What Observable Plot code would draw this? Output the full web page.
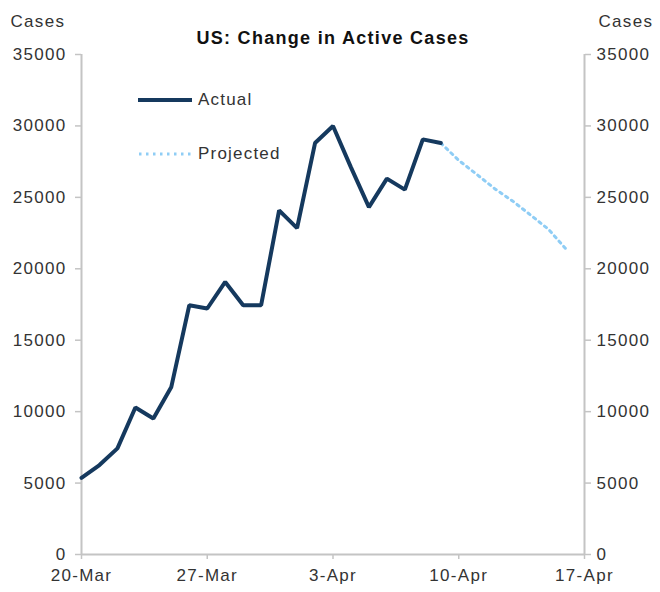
<!DOCTYPE html>
<html>
<head>
<meta charset="utf-8">
<script src="https://cdn.jsdelivr.net/npm/d3@7"></script>
<script src="https://cdn.jsdelivr.net/npm/@observablehq/plot@0.6"></script>
<style>
  html, body { margin: 0; padding: 0; background: #fff; }
  #wrap { position: relative; width: 660px; height: 592px; font-family: "Liberation Sans", Arial, sans-serif; letter-spacing: 1.2px; }
  #legend { position: absolute; left: 138px; top: 86px; font-size: 17px; color: #333; }
  #legend .row { display: flex; align-items: center; height: 27px; margin-bottom: 27px; }
  #legend svg { margin-right: 6px; }
  svg text { letter-spacing: 1.3px; }
</style>
</head>
<body>
<div id="wrap">
  <div id="legend">
    <div class="row"><svg width="54" height="10"><line x1="0" y1="5" x2="54" y2="5" stroke="#15395e" stroke-width="4"/></svg>Actual</div>
    <div class="row"><svg width="54" height="10"><line x1="1" y1="5" x2="54" y2="5" stroke="#8fcdf5" stroke-width="3" stroke-dasharray="2.5,4.5"/></svg>Projected</div>
  </div>
</div>
<script>
const actualDates = ["2020-03-20","2020-03-21","2020-03-22","2020-03-23","2020-03-24","2020-03-25","2020-03-26","2020-03-27","2020-03-28","2020-03-29","2020-03-30","2020-03-31","2020-04-01","2020-04-02","2020-04-03","2020-04-04","2020-04-05","2020-04-06","2020-04-07","2020-04-08","2020-04-09"];
const actualValues = [5370, 6260, 7430, 10290, 9520, 11730, 17450, 17220, 19080, 17450, 17450, 24090, 22850, 28800, 29990, 27100, 24320, 26310, 25540, 29060, 28800];
const projectedDates = ["2020-04-09","2020-04-10","2020-04-11","2020-04-12","2020-04-13","2020-04-14","2020-04-15","2020-04-16"];
const projectedValues = [28800, 27590, 26610, 25610, 24740, 23760, 22760, 21340];
const xTicks = ["2020-03-20","2020-03-27","2020-04-03","2020-04-10","2020-04-17"];
const yTicks = [0, 5000, 10000, 15000, 20000, 25000, 30000, 35000];
const title = "US: Change in Active Cases";
const axisLabel = "Cases";

const parse = d3.utcParse("%Y-%m-%d");
const actual = actualDates.map((d, i) => ({date: parse(d), value: actualValues[i]}));
const projected = projectedDates.map((d, i) => ({date: parse(d), value: projectedValues[i]}));
const xt = xTicks.map(parse);
const xDomain = [xt[0], xt[xt.length - 1]];
const xFmt = d3.utcFormat("%-d-%b");
const yFmt = d3.format("d");

const axisColor = "#c4c4c4";
const font = "\"Liberation Sans\", Arial, sans-serif";

const chart = Plot.plot({
  width: 660,
  height: 592,
  marginLeft: 81,
  marginRight: 76,
  marginTop: 54,
  marginBottom: 38,
  style: {fontFamily: font, fontSize: "17px", color: "#333", background: "#fff"},
  x: {type: "utc", domain: xDomain, ticks: xt, tickFormat: xFmt},
  y: {domain: [0, 35000], ticks: yTicks, tickFormat: yFmt},
  marks: [
    Plot.ruleX(xDomain, {stroke: axisColor, strokeWidth: 2}),
    Plot.ruleY([0], {stroke: axisColor, strokeWidth: 2}),
    Plot.axisX({ticks: xt, tickFormat: xFmt, tickSize: 5, tickPadding: 9, stroke: axisColor, strokeWidth: 1.5, label: null, fill: "#333"}),
    Plot.axisY({anchor: "left", ticks: yTicks, tickFormat: yFmt, tickSize: 6, tickPadding: 9, stroke: axisColor, strokeWidth: 1.5, label: null, fill: "#333"}),
    Plot.axisY({anchor: "right", ticks: yTicks, tickFormat: yFmt, tickSize: 6, tickPadding: 6, stroke: axisColor, strokeWidth: 1.5, label: null, fill: "#333"}),
    Plot.line(projected, {x: "date", y: "value", stroke: "#8fcdf5", strokeWidth: 3, strokeDasharray: "2.5,4.5"}),
    Plot.line(actual, {x: "date", y: "value", stroke: "#15395e", strokeWidth: 4, strokeLinejoin: "miter"}),
    Plot.text([title], {frameAnchor: "top", dy: -23, fontWeight: "bold", fontSize: 18, fill: "#111"}),
    Plot.text([axisLabel], {frameAnchor: "top-left", dx: -71, dy: -40, textAnchor: "start", fontSize: 17, fill: "#333"}),
    Plot.text([axisLabel], {frameAnchor: "top-right", dx: 14, dy: -40, textAnchor: "start", fontSize: 17, fill: "#333"})
  ]
});
document.getElementById("wrap").prepend(chart);
chart.style.position = "absolute";
chart.style.left = "0";
chart.style.top = "0";
</script>
</body>
</html>
